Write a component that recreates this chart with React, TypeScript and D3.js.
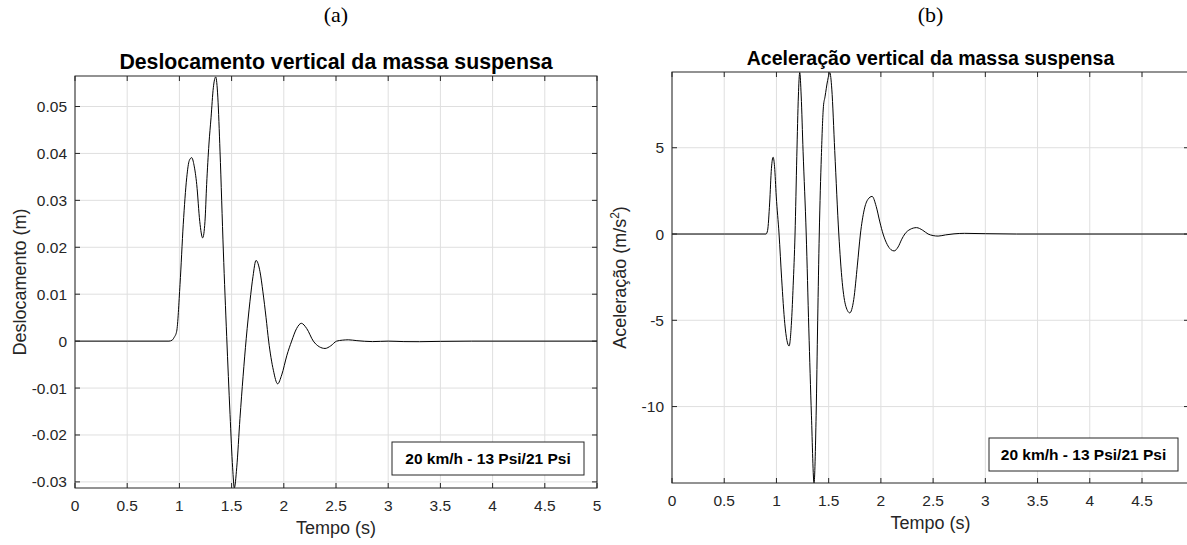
import React, { useEffect, useRef } from 'react';
import * as d3 from 'd3';

// Deslocamento vertical (m) (a)
const tempoDesl = [0, 0.5, 0.9, 0.93, 0.95, 0.974, 1.006, 1.037, 1.07, 1.095, 1.118, 1.14, 1.166, 1.195, 1.223, 1.245, 1.261, 1.283, 1.303, 1.325, 1.348, 1.368, 1.389, 1.421, 1.453, 1.485, 1.51, 1.526, 1.549, 1.58, 1.61, 1.64, 1.676, 1.705, 1.734, 1.772, 1.8, 1.83, 1.855, 1.9, 1.941, 1.98, 2.03, 2.075, 2.123, 2.168, 2.219, 2.283, 2.34, 2.395, 2.45, 2.506, 2.56, 2.618, 2.7, 2.85, 3.0, 3.15, 3.3, 3.5, 3.8, 5.0];
const deslocamento = [0, 0, 0, 0.0002, 0.0008, 0.0021, 0.0121, 0.0249, 0.0348, 0.0385, 0.0391, 0.0375, 0.0334, 0.0255, 0.022, 0.0255, 0.0334, 0.042, 0.0476, 0.054, 0.0563, 0.052, 0.0405, 0.0192, 0.001, -0.0156, -0.027, -0.0313, -0.027, -0.0165, -0.0075, 0.0005, 0.0085, 0.0138, 0.0172, 0.0148, 0.0105, 0.005, 0, -0.0062, -0.0091, -0.0072, -0.003, 0, 0.0027, 0.0038, 0.0027, 0, -0.0012, -0.00156, -0.001, 0, 0.0002, 0.00028, 0.0001, -0.0001, 0, -0.0001, -0.00012, -0.00005, 0, 0];

// Aceleração vertical (m/s²) (b)
const tempoAcel = [0, 0.5, 0.9, 0.915, 0.935, 0.952, 0.968, 0.982, 0.998, 1.025, 1.05, 1.08, 1.121, 1.145, 1.16, 1.178, 1.195, 1.21, 1.223, 1.237, 1.255, 1.285, 1.31, 1.335, 1.36, 1.38, 1.395, 1.41, 1.43, 1.45, 1.465, 1.49, 1.511, 1.53, 1.558, 1.597, 1.63, 1.665, 1.702, 1.74, 1.775, 1.804, 1.84, 1.875, 1.916, 1.955, 1.99, 2.021, 2.06, 2.095, 2.127, 2.165, 2.2, 2.229, 2.28, 2.341, 2.4, 2.452, 2.5, 2.548, 2.62, 2.7, 2.8, 3.0, 3.3, 4.95];
const aceleracao = [0, 0, 0, 0.2, 1.8, 3.8, 4.45, 3.9, 2.2, 0, -2.6, -5.2, -6.49, -5.0, -3.0, 0, 4.5, 8.0, 9.36, 8.0, 4.8, 0, -5.5, -10.5, -14.43, -10.5, -5.0, 0, 4.5, 7.4, 7.95, 8.9, 9.36, 8.4, 4.84, 0, -2.8, -4.2, -4.57, -3.8, -1.8, 0, 1.4, 2.0, 2.18, 1.6, 0.7, 0, -0.6, -0.9, -0.98, -0.75, -0.3, 0, 0.27, 0.37, 0.22, 0, -0.09, -0.12, -0.05, 0.01, 0.04, 0.02, 0, 0];

const ticksTempoA = [0, 0.5, 1, 1.5, 2, 2.5, 3, 3.5, 4, 4.5, 5];
const ticksTempoB = [0, 0.5, 1, 1.5, 2, 2.5, 3, 3.5, 4, 4.5];
const ticksDesl = [-0.03, -0.02, -0.01, 0, 0.01, 0.02, 0.03, 0.04, 0.05];
const ticksAcel = [-10, -5, 0, 5];
const legenda = '20 km/h - 13 Psi/21 Psi';

const AXIS = '#262626';
const GRID = '#dfdfdf';
const SANS = '"Liberation Sans", Arial, Helvetica, sans-serif';
const SERIF = '"Liberation Serif", "DejaVu Serif", serif';

interface PanelCfg {
  id: string;
  tag: string;
  title: string;
  titleSize: number;
  titleY: number;
  ylabel: string;
  ylabelX: number;
  t: number[];
  v: number[];
  xDomain: [number, number];
  yDomain: [number, number];
  xTicks: number[];
  yTicks: number[];
  left: number;
  right: number;
  top: number;
  bottom: number;
  legendBox: [number, number, number, number];
}

function drawPanel(svg: d3.Selection<SVGSVGElement, unknown, null, undefined>, c: PanelCfg) {
  const x = d3.scaleLinear().domain(c.xDomain).range([c.left, c.right]);
  const y = d3.scaleLinear().domain(c.yDomain).range([c.bottom, c.top]);
  const g = svg.append('g');
  const cx = (c.left + Math.min(c.right, 1190)) / 2;

  g.append('clipPath').attr('id', c.id)
    .append('rect')
    .attr('x', c.left).attr('y', c.top)
    .attr('width', c.right - c.left).attr('height', c.bottom - c.top);

  // grid
  g.selectAll('.vg').data(c.xTicks).enter().append('line')
    .attr('x1', d => x(d)).attr('x2', d => x(d))
    .attr('y1', c.top).attr('y2', c.bottom)
    .attr('stroke', GRID).attr('stroke-width', 1);
  g.selectAll('.hg').data(c.yTicks).enter().append('line')
    .attr('x1', c.left).attr('x2', c.right)
    .attr('y1', d => y(d)).attr('y2', d => y(d))
    .attr('stroke', GRID).attr('stroke-width', 1);

  // curve
  const pts = c.t.map((t, i) => [t, c.v[i]] as [number, number]);
  const line = d3.line<[number, number]>()
    .x(d => x(d[0])).y(d => y(d[1]))
    .curve(d3.curveMonotoneX);
  g.append('path')
    .attr('d', line(pts) || '')
    .attr('fill', 'none').attr('stroke', '#000').attr('stroke-width', 1)
    .attr('clip-path', `url(#${c.id})`);

  // box
  g.append('rect')
    .attr('x', c.left).attr('y', c.top)
    .attr('width', c.right - c.left).attr('height', c.bottom - c.top)
    .attr('fill', 'none').attr('stroke', AXIS).attr('stroke-width', 1);

  // inward ticks
  const tl = 5;
  c.xTicks.forEach(d => {
    g.append('line').attr('x1', x(d)).attr('x2', x(d)).attr('y1', c.bottom).attr('y2', c.bottom - tl).attr('stroke', AXIS);
    g.append('line').attr('x1', x(d)).attr('x2', x(d)).attr('y1', c.top).attr('y2', c.top + tl).attr('stroke', AXIS);
  });
  c.yTicks.forEach(d => {
    g.append('line').attr('x1', c.left).attr('x2', c.left + tl).attr('y1', y(d)).attr('y2', y(d)).attr('stroke', AXIS);
    g.append('line').attr('x1', c.right).attr('x2', c.right - tl).attr('y1', y(d)).attr('y2', y(d)).attr('stroke', AXIS);
  });

  // tick labels
  g.selectAll('.xl').data(c.xTicks).enter().append('text')
    .attr('x', d => x(d)).attr('y', c.bottom + 23)
    .attr('text-anchor', 'middle')
    .attr('font-family', SANS).attr('font-size', 15.5).attr('fill', AXIS)
    .text(d => String(d));
  g.selectAll('.yl').data(c.yTicks).enter().append('text')
    .attr('x', c.left - 8).attr('y', d => y(d) + 5.5)
    .attr('text-anchor', 'end')
    .attr('font-family', SANS).attr('font-size', 15.5).attr('fill', AXIS)
    .text(d => String(d));

  // axis labels
  g.append('text')
    .attr('transform', `translate(${cx},${c.bottom + 46})`)
    .attr('text-anchor', 'middle')
    .attr('font-family', SANS).attr('font-size', 18).attr('fill', AXIS)
    .text('Tempo (s)');
  const yl = g.append('text')
    .attr('transform', `translate(${c.ylabelX},${(c.top + c.bottom) / 2}) rotate(-90)`)
    .attr('text-anchor', 'middle')
    .attr('font-family', SANS).attr('font-size', 18).attr('fill', AXIS);
  if (c.ylabel.endsWith('²)')) {
    yl.append('tspan').text('Aceleração (m/s');
    yl.append('tspan').attr('font-size', 12).attr('dy', -7).text('2');
    yl.append('tspan').attr('dy', 7).text(')');
  } else {
    yl.text(c.ylabel);
  }

  // titles
  g.append('text')
    .attr('x', cx).attr('y', 22)
    .attr('text-anchor', 'middle')
    .attr('font-family', SERIF).attr('font-size', 22).attr('fill', '#000')
    .text(c.tag);
  g.append('text')
    .attr('x', cx).attr('y', c.titleY)
    .attr('text-anchor', 'middle')
    .attr('font-family', SANS).attr('font-weight', 'bold')
    .attr('font-size', c.titleSize).attr('fill', '#000')
    .text(c.title);

  // legend box
  const [lx0, ly0, lx1, ly1] = c.legendBox;
  g.append('rect')
    .attr('x', lx0).attr('y', ly0).attr('width', lx1 - lx0).attr('height', ly1 - ly0)
    .attr('fill', '#fff').attr('stroke', AXIS).attr('stroke-width', 1);
  g.append('text')
    .attr('x', (lx0 + lx1) / 2).attr('y', (ly0 + ly1) / 2 + 5.5)
    .attr('text-anchor', 'middle')
    .attr('font-family', SANS).attr('font-weight', 'bold').attr('font-size', 15.5).attr('fill', '#000')
    .text(legenda);
}

const App = () => {
  const svgRef = useRef<SVGSVGElement>(null);

  useEffect(() => {
    if (!svgRef.current) return;
    const svg = d3.select(svgRef.current);
    svg.selectAll('*').remove();

    drawPanel(svg, {
      id: 'clipA', tag: '(a)',
      title: 'Deslocamento vertical da massa suspensa', titleSize: 21.3, titleY: 69,
      ylabel: 'Deslocamento (m)', ylabelX: 26,
      t: tempoDesl, v: deslocamento,
      xDomain: [0, 5], yDomain: [-0.0313, 0.0565],
      xTicks: ticksTempoA, yTicks: ticksDesl,
      left: 75, right: 597, top: 76, bottom: 488,
      legendBox: [392, 442, 584, 475],
    });

    drawPanel(svg, {
      id: 'clipB', tag: '(b)',
      title: 'Aceleração vertical da massa suspensa', titleSize: 19.5, titleY: 65,
      ylabel: 'Aceleração (m/s²)', ylabelX: 626,
      t: tempoAcel, v: aceleracao,
      xDomain: [0, 4.95], yDomain: [-14.43, 9.39],
      xTicks: ticksTempoB, yTicks: ticksAcel,
      left: 672, right: 1189, top: 72, bottom: 483,
      legendBox: [989, 438, 1178, 471],
    });
  }, []);

  return (
    <svg
      ref={svgRef}
      width={1187}
      height={545}
      viewBox="0 0 1187 545"
      style={{ position: 'absolute', left: 0, top: 0, background: '#fff' }}
    />
  );
};

export default App;
